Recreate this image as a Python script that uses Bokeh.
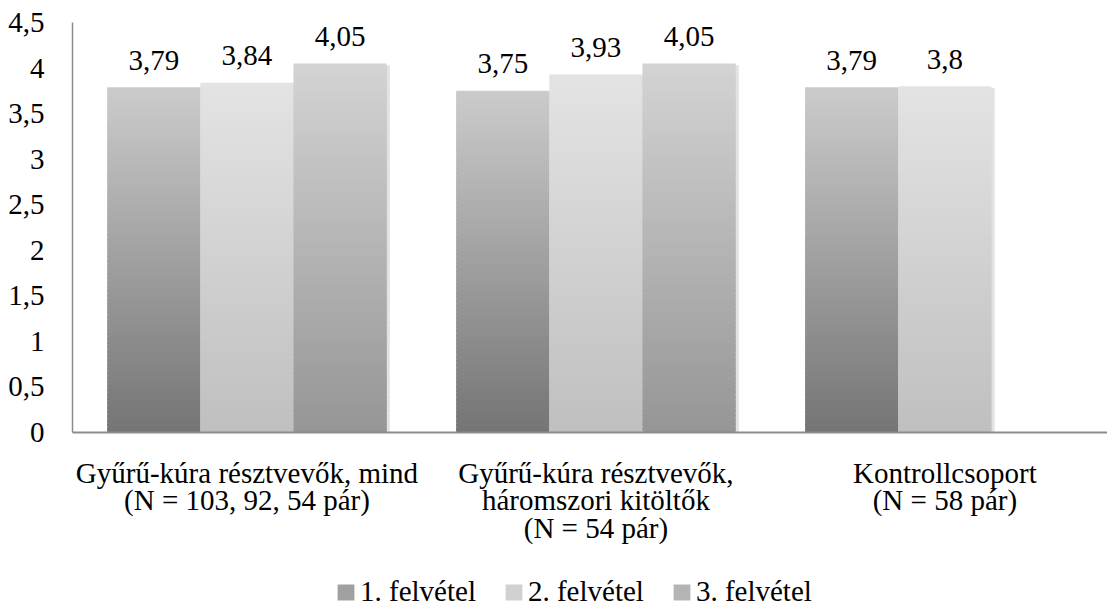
import numpy as np
from bokeh.plotting import figure
from bokeh.layouts import column
from bokeh.models import (Range1d, FixedTicker, CustomJSTickFormatter, Legend,
                          LegendItem, ColumnDataSource)
from bokeh.core.properties import value
from bokeh.embed import file_html
from bokeh.resources import INLINE

# --- data -------------------------------------------------------------
categories = [
    "Gyűrű-kúra résztvevők, mind\n(N = 103, 92, 54 pár)",
    "Gyűrű-kúra résztvevők,\nháromszori kitöltők\n(N = 54 pár)",
    "Kontrollcsoport\n(N = 58 pár)",
]
series = ["1. felvétel", "2. felvétel", "3. felvétel"]
felvetel_1 = [3.79, 3.75, 3.79]
felvetel_2 = [3.84, 3.93, 3.80]
felvetel_3 = [4.05, 4.05, None]
y_ticks = [0, 0.5, 1, 1.5, 2, 2.5, 3, 3.5, 4, 4.5]

# --- styling ----------------------------------------------------------
FONT = "Liberation Serif"
FONT_SIZE = "29px"
bottom_colors = ["#747474", "#bfbfbf", "#959595"]
top_colors = ["#cbcbcb", "#e3e3e3", "#d3d3d3"]
bar_width = 0.267
n_slices = 80
WIDTH = 1107
MAIN_H = 566
LEGEND_H = 40


def hex_to_rgb(h):
    h = h.lstrip("#")
    return np.array([int(h[i:i + 2], 16) for i in (0, 2, 4)], dtype=float)


def lerp_color(c0, c1, t):
    c = hex_to_rgb(c0) * (1 - t) + hex_to_rgb(c1) * t
    return "#%02x%02x%02x" % tuple(int(round(v)) for v in c)


p = figure(width=WIDTH, height=MAIN_H, output_backend="svg", toolbar_location=None,
           x_range=Range1d(0, 2.966), y_range=Range1d(0, 4.5),
           min_border_left=72, min_border_right=0, min_border_top=22,
           min_border_bottom=MAIN_H - 432)
p.outline_line_color = None
p.xgrid.visible = False
p.ygrid.visible = False
p.background_fill_color = "white"
p.border_fill_color = "white"

# --- gradient bars, built as stacked horizontal slices ----------------
all_series = [felvetel_1, felvetel_2, felvetel_3]
offsets = [-bar_width, 0.0, bar_width]
xs, bots, tops, cols = [], [], [], []
lx, ly, lt = [], [], []
sx, stop = [], []
legend_index = []
for s_idx, vals in enumerate(all_series):
    legend_index.append(len(xs) + n_slices // 2)
    for c_idx, v in enumerate(vals):
        if v is None:
            continue
        xc = c_idx + 0.5 + offsets[s_idx]
        for k in range(n_slices):
            b = max(0.0, v * (k - 0.5) / n_slices)
            t = v * (k + 1) / n_slices
            xs.append(xc)
            bots.append(b)
            tops.append(t)
            cols.append(lerp_color(bottom_colors[s_idx], top_colors[s_idx],
                                   (k + 0.5) / n_slices))
        lx.append(xc)
        ly.append(v)
        lt.append(("%g" % v).replace(".", ","))
        sx.append(xc + 0.009)
        stop.append(v - 0.02)

# soft shadow on the right side of the bars
shadow = ColumnDataSource(dict(x=sx, top=stop))
p.vbar(x="x", top="top", bottom=0, width=bar_width, fill_color="#d6d6d6",
       fill_alpha=0.7, line_color=None, source=shadow)

bars = ColumnDataSource(dict(x=xs, bottom=bots, top=tops, color=cols))
p.vbar(x="x", bottom="bottom", top="top", width=bar_width, fill_color="color",
       line_color=None, source=bars)

labels = ColumnDataSource(dict(x=lx, y=ly, text=lt))
p.text(x="x", y="y", text="text", source=labels, text_align="center",
       text_baseline="alphabetic", y_offset=-27, text_font=value(FONT),
       text_font_size=FONT_SIZE, text_color="black")

# --- axes -------------------------------------------------------------
p.yaxis.ticker = FixedTicker(ticks=y_ticks)
p.yaxis.formatter = CustomJSTickFormatter(
    code="return tick.toString().replace('.', ',');")
p.yaxis.major_tick_line_color = None
p.yaxis.minor_tick_line_color = None
p.yaxis.axis_line_color = "#8c8c8c"
p.yaxis.axis_line_width = 1.5
p.yaxis.major_label_standoff = 22
p.yaxis.major_label_text_font = FONT
p.yaxis.major_label_text_font_size = FONT_SIZE
p.yaxis.major_label_text_color = "black"

p.xaxis.ticker = FixedTicker(ticks=[i + 0.5 for i in range(len(categories))])
p.xaxis.major_label_overrides = {i + 0.5: c for i, c in enumerate(categories)}
p.xaxis.major_tick_line_color = None
p.xaxis.minor_tick_line_color = None
p.xaxis.axis_line_color = "#8c8c8c"
p.xaxis.axis_line_width = 2
p.xaxis.major_label_standoff = 18
p.xaxis.major_label_text_font = FONT
p.xaxis.major_label_text_font_size = FONT_SIZE
p.xaxis.major_label_text_color = "black"
p.xaxis.major_label_text_line_height = 0.86

# --- legend strip below the chart -------------------------------------
lf = figure(width=WIDTH, height=LEGEND_H, output_backend="svg",
            toolbar_location=None, x_range=Range1d(0, 1),
            y_range=Range1d(100, 101), min_border=0)
lf.axis.visible = False
lf.grid.visible = False
lf.outline_line_color = None
lf.background_fill_color = "white"
lf.border_fill_color = "white"

# same bar slices, out of view here; the legend swatches take their colours
key = lf.vbar(x="x", bottom="bottom", top="top", width=bar_width,
              fill_color="color", line_color=None, source=bars)
items = [LegendItem(label=name, renderers=[key], index=idx)
         for name, idx in zip(series, legend_index)]

legend = Legend(items=items, orientation="horizontal", location=(263, -2),
                label_text_font=FONT, label_text_font_size=FONT_SIZE,
                label_text_color="black", glyph_width=21, glyph_height=20,
                label_standoff=4, spacing=27, padding=0, margin=0,
                border_line_color=None, background_fill_alpha=0)
lf.add_layout(legend)

layout = column(p, lf, spacing=0)
open("out.html", "w").write(file_html(layout, INLINE))
